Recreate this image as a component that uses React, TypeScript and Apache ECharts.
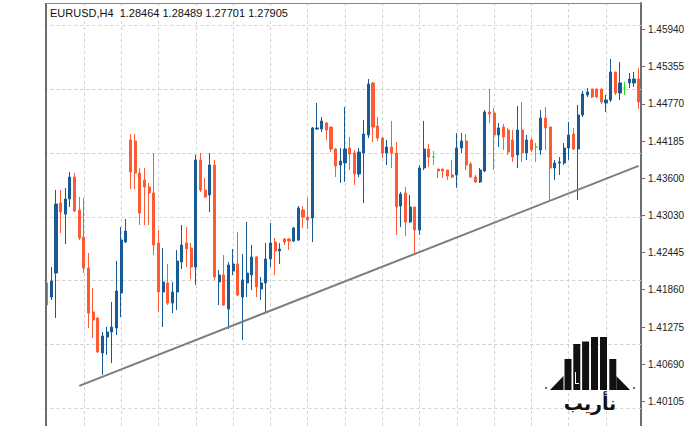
import React, { useEffect, useRef } from "react";
import * as echarts from "echarts";

const titleText = "EURUSD,H4  1.28464 1.28489 1.27701 1.27905";

const opens = [
  1.41965, 1.41745, 1.42121, 1.43218, 1.43045, 1.43281, 1.43625, 1.43108, 1.42685, 1.42200,
  1.41510, 1.41416, 1.40868, 1.41118, 1.41197, 1.41260, 1.41808, 1.42607, 1.44205, 1.44189,
  1.43688, 1.43579, 1.43469, 1.43375, 1.42591, 1.41824, 1.41965, 1.41651, 1.41824, 1.42294,
  1.42591, 1.42513, 1.42215, 1.43892, 1.43422, 1.43344, 1.43814, 1.41981, 1.42090, 1.41557,
  1.42152, 1.42262, 1.41745, 1.41965, 1.42090, 1.42372, 1.41871, 1.41965, 1.42341, 1.42607,
  1.42466, 1.42654, 1.42654, 1.42622, 1.42638, 1.43108, 1.42998, 1.42983, 1.44378, 1.44378,
  1.44472, 1.44409, 1.44064, 1.43814, 1.43845, 1.44080, 1.44002, 1.43672, 1.44002, 1.44284,
  1.45099, 1.44425, 1.44237, 1.44002, 1.44095, 1.44002, 1.43171, 1.43375, 1.42921, 1.43155,
  1.42795, 1.43767, 1.44064, 1.43939, 1.43751, 1.43751, 1.43735, 1.43657, 1.43657, 1.44080,
  1.44189, 1.43829, 1.43625, 1.43548, 1.43719, 1.44644, 1.44628, 1.44284, 1.44409, 1.44362,
  1.44205, 1.43971, 1.44362, 1.44002, 1.44205, 1.44095, 1.44049, 1.44550, 1.44409, 1.43767,
  1.43845, 1.43845, 1.44080, 1.44299, 1.44064, 1.44597, 1.44911, 1.45005, 1.45005, 1.45005,
  1.44785, 1.44832, 1.45271, 1.44942, 1.45021, 1.45099, 1.45099, 1.45161,
];

const closes = [
  1.41620, 1.41996, 1.43202, 1.43077, 1.43281, 1.43625, 1.43092, 1.42670, 1.42200, 1.41494,
  1.41385, 1.40884, 1.41134, 1.41197, 1.41275, 1.41839, 1.42638, 1.42779, 1.43704, 1.43688,
  1.43061, 1.43469, 1.43375, 1.42560, 1.41824, 1.41981, 1.41651, 1.41824, 1.42309, 1.42560,
  1.42497, 1.42215, 1.43892, 1.43422, 1.43312, 1.43814, 1.42058, 1.42090, 1.41620, 1.42247,
  1.42262, 1.41777, 1.42012, 1.42121, 1.42372, 1.41902, 1.41965, 1.42341, 1.42591, 1.42466,
  1.42497, 1.42607, 1.42622, 1.42827, 1.43140, 1.42998, 1.42952, 1.44394, 1.44394, 1.44503,
  1.44362, 1.44064, 1.43798, 1.43876, 1.44064, 1.43986, 1.43672, 1.44018, 1.44299, 1.45083,
  1.44409, 1.44237, 1.44002, 1.44095, 1.44002, 1.43155, 1.43359, 1.42921, 1.43155, 1.42795,
  1.43767, 1.44064, 1.43939, 1.43939, 1.43719, 1.43719, 1.43641, 1.43625, 1.44080, 1.44189,
  1.43814, 1.43625, 1.43548, 1.43735, 1.44644, 1.44612, 1.44284, 1.44394, 1.44252, 1.44018,
  1.43939, 1.44362, 1.44002, 1.44205, 1.44049, 1.44095, 1.44550, 1.44394, 1.43767, 1.43845,
  1.43861, 1.44080, 1.44284, 1.44064, 1.44597, 1.44926, 1.44958, 1.44880, 1.44880, 1.44801,
  1.44832, 1.45271, 1.44942, 1.45099, 1.45021, 1.45161, 1.45161, 1.44801,
];

const lows = [
  1.41604, 1.41698, 1.41416, 1.42748, 1.42575, 1.43155, 1.43077, 1.42638, 1.42121, 1.41260,
  1.41103, 1.40868, 1.40523, 1.40837, 1.40711, 1.41150, 1.41431, 1.42591, 1.43438, 1.43438,
  1.42874, 1.42874, 1.42874, 1.42404, 1.41510, 1.41275, 1.41620, 1.41494, 1.41541, 1.42184,
  1.42215, 1.42027, 1.41934, 1.43391, 1.43297, 1.43077, 1.42012, 1.41620, 1.41604, 1.41244,
  1.42090, 1.41761, 1.41071, 1.41745, 1.41855, 1.41745, 1.41698, 1.41494, 1.42215, 1.42090,
  1.42262, 1.42560, 1.42482, 1.42607, 1.42622, 1.42827, 1.42811, 1.42607, 1.44362, 1.44331,
  1.44205, 1.44018, 1.43625, 1.43532, 1.43548, 1.43735, 1.43501, 1.43625, 1.43218, 1.44237,
  1.44174, 1.44189, 1.43924, 1.43814, 1.43767, 1.42717, 1.42842, 1.42701, 1.42905, 1.42435,
  1.42717, 1.43735, 1.43782, 1.43814, 1.43610, 1.43610, 1.43579, 1.43610, 1.43454, 1.44002,
  1.43735, 1.43610, 1.43532, 1.43532, 1.43704, 1.44472, 1.43735, 1.44095, 1.44049, 1.43971,
  1.43861, 1.43767, 1.43861, 1.43892, 1.44018, 1.43861, 1.43971, 1.44049, 1.43265, 1.43579,
  1.43657, 1.43814, 1.43892, 1.44049, 1.43265, 1.44565, 1.44880, 1.44864, 1.44864, 1.44769,
  1.44644, 1.44801, 1.44911, 1.44832, 1.44911, 1.45021, 1.45037, 1.44691,
];

const highs = [
  1.41996, 1.42215, 1.43422, 1.43422, 1.43454, 1.43704, 1.43688, 1.43312, 1.43297, 1.42435,
  1.41887, 1.41431, 1.41197, 1.41275, 1.41667, 1.42309, 1.42842, 1.42967, 1.44299, 1.44299,
  1.43767, 1.43767, 1.43532, 1.44002, 1.42795, 1.42513, 1.42262, 1.41981, 1.42482, 1.42874,
  1.42842, 1.42591, 1.43971, 1.44002, 1.43610, 1.44002, 1.43892, 1.42168, 1.42404, 1.42294,
  1.42497, 1.42764, 1.42419, 1.42921, 1.42560, 1.42388, 1.42058, 1.42591, 1.42905, 1.42670,
  1.42591, 1.42670, 1.42670, 1.42842, 1.43171, 1.43171, 1.43297, 1.44409, 1.44785, 1.44565,
  1.44488, 1.44409, 1.44080, 1.44080, 1.44722, 1.44252, 1.44049, 1.44080, 1.44519, 1.45161,
  1.45115, 1.44565, 1.44252, 1.44205, 1.44503, 1.44174, 1.43391, 1.43469, 1.43344, 1.43155,
  1.43814, 1.44503, 1.44142, 1.44033, 1.43751, 1.43751, 1.43735, 1.43892, 1.44315, 1.44315,
  1.44299, 1.43861, 1.43657, 1.43767, 1.44675, 1.45005, 1.44707, 1.44472, 1.44456, 1.44394,
  1.44362, 1.44738, 1.44801, 1.44284, 1.44237, 1.44158, 1.44675, 1.44722, 1.44409, 1.43892,
  1.43939, 1.44158, 1.44488, 1.44394, 1.44754, 1.44973, 1.45021, 1.45005, 1.45005, 1.45005,
  1.44911, 1.45475, 1.45271, 1.45428, 1.45115, 1.45255, 1.45271, 1.45334,
];

const yTicks = [
  1.40105, 1.4069, 1.41275, 1.4186, 1.42445, 1.4303, 1.436, 1.44185, 1.4477, 1.45355, 1.4594,
];

const gridBars = [8, 16, 24, 32, 40, 48, 56, 64, 72, 80, 88, 96, 104, 112, 120];

// trend line anchors: [bar index, price]
const trendStart = [7, 1.40352];
const trendEnd = [127, 1.438];

const yMin = 1.39724;
const yMax = 1.46352;

const BULL = "#175a96";
const BEAR = "#ff5a32";
const DOJI = "#22dd22";

export default function App() {
  const ref = useRef<HTMLDivElement>(null);

  useEffect(() => {
    if (!ref.current) return;
    const chart = echarts.init(ref.current, null, { renderer: "svg" });
    const barLabels = opens.map((_, i) => String(i + 1));
    const candles = opens.map((o, i) => [o, closes[i], lows[i], highs[i]]);

    const logoBars = [
      [564.5, 359, 7, 31],
      [573.3, 344, 7, 46],
      [582.1, 341.5, 7, 48.5],
      [591, 337, 7, 53],
      [600, 337, 7, 53],
      [609.3, 359, 7, 31],
    ];

    const option: any = {
      animation: false,
      backgroundColor: "#ffffff",
      title: {
        text: titleText,
        left: 50,
        top: 7,
        padding: 0,
        textStyle: {
          fontSize: 11,
          fontWeight: "normal",
          color: "#111",
          fontFamily: "Liberation Sans",
        },
      },
      grid: { left: 44.3, right: 59, top: 3, bottom: 0, containLabel: false },
      xAxis: {
        type: "category",
        data: barLabels,
        axisLine: { show: false },
        axisTick: { show: false },
        axisLabel: { show: false },
        splitLine: { show: false },
      },
      yAxis: {
        type: "value",
        position: "right",
        min: yMin,
        max: yMax,
        splitLine: { show: false },
        axisLine: { show: true, lineStyle: { color: "#6e6e6e", width: 2 } },
        axisTick: {
          show: true,
          length: 4,
          customValues: yTicks,
          lineStyle: { color: "#6e6e6e" },
        },
        axisLabel: {
          customValues: yTicks,
          formatter: (v: number) => v.toFixed(5),
          fontSize: 10,
          color: "#222",
          margin: 7,
          fontFamily: "Liberation Sans",
        },
      },
      series: [
        {
          type: "line",
          data: [],
          silent: true,
          markLine: {
            silent: true,
            z: 1,
            symbol: ["none", "none"],
            label: { show: false },
            lineStyle: { color: "#d2d2d2", type: [3, 3], width: 1 },
            emphasis: { disabled: true },
            data: [
              ...yTicks.map((v) => ({ yAxis: v })),
              ...gridBars.map((b) => ({ xAxis: b })),
            ],
          },
        },
        {
          type: "candlestick",
          data: candles,
          barWidth: 2.6,
          itemStyle: {
            color: BULL,
            color0: BEAR,
            borderColor: BULL,
            borderColor0: BEAR,
            borderColorDoji: DOJI,
            borderWidth: 1,
          },
          markLine: {
            silent: true,
            symbol: ["none", "none"],
            label: { show: false },
            lineStyle: { color: "#7d7d7d", width: 2, type: "solid" },
            emphasis: { disabled: true },
            data: [
              [
                { coord: [trendStart[0], trendStart[1]] },
                { coord: [trendEnd[0], trendEnd[1]] },
              ],
            ],
          },
        },
      ],
      graphic: [
        {
          type: "line",
          z: 100,
          shape: { x1: 46, y1: 3, x2: 46, y2: 426 },
          style: { stroke: "#6e6e6e", lineWidth: 2 },
        },
        {
          type: "line",
          z: 100,
          shape: { x1: 46, y1: 3.5, x2: 641, y2: 3.5 },
          style: { stroke: "#8a8a8a", lineWidth: 1 },
        },
        ...logoBars.map((b) => ({
          type: "rect",
          z: 100,
          shape: { x: b[0], y: b[1], width: b[2], height: b[3] },
          style: { fill: "#111" },
        })),
        {
          type: "rect",
          z: 101,
          shape: { x: 575, y: 372, width: 1, height: 12 },
          style: { fill: "#fff" },
        },
        {
          type: "rect",
          z: 101,
          shape: { x: 575, y: 383, width: 4, height: 1 },
          style: { fill: "#fff" },
        },
        {
          type: "polygon",
          z: 100,
          shape: { points: [[550, 390], [563.5, 390], [563.5, 376]] },
          style: { fill: "#111" },
        },
        {
          type: "polygon",
          z: 100,
          shape: { points: [[616.3, 376], [616.3, 390], [630, 390]] },
          style: { fill: "#111" },
        },
        {
          type: "circle",
          z: 100,
          shape: { cx: 546, cy: 388, r: 0.8 },
          style: { fill: "#111" },
        },
        {
          type: "circle",
          z: 100,
          shape: { cx: 634, cy: 388, r: 0.8 },
          style: { fill: "#111" },
        },
        {
          type: "text",
          z: 100,
          x: 590,
          y: 403,
          style: {
            text: "نأريب",
            fill: "#111",
            font: 'bold 19px "DejaVu Sans"',
            align: "center",
            verticalAlign: "middle",
          },
        },
      ],
    };

    chart.setOption(option);
    return () => chart.dispose();
  }, []);

  return (
    <div
      ref={ref}
      style={{ position: "fixed", left: 0, top: 0, width: 700, height: 426 }}
    />
  );
}
